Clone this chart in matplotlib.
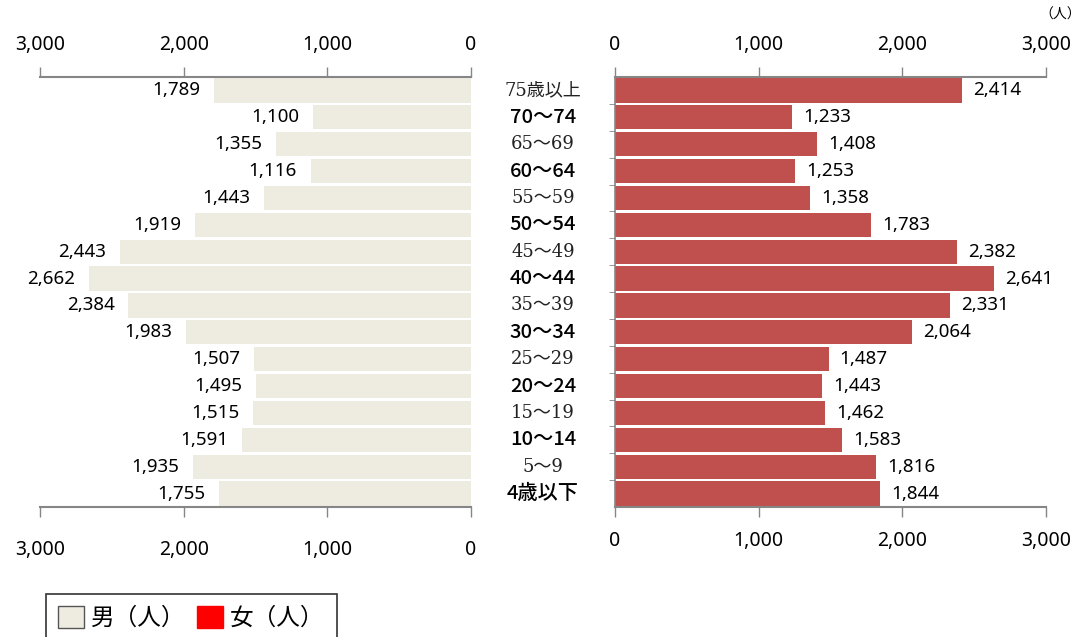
import matplotlib.pyplot as plt
from matplotlib.patches import Patch

plt.rcParams['font.family'] = ['Noto Sans', 'Noto Sans CJK JP', 'DejaVu Sans']

# 年齢階級（上から順）
ages = ['75歳以上', '70～74', '65〜69', '60～64', '55〜59', '50～54', '45〜49', '40～44',
        '35〜39', '30～34', '25〜29', '20～24', '15〜19', '10～14', '5〜9', '4歳以下']
male = [1789, 1100, 1355, 1116, 1443, 1919, 2443, 2662, 2384, 1983, 1507, 1495, 1515, 1591, 1935, 1755]
female = [2414, 1233, 1408, 1253, 1358, 1783, 2382, 2641, 2331, 2064, 1487, 1443, 1462, 1583, 1816, 1844]
ticks = [0, 1000, 2000, 3000]
tick_labels = ['0', '1,000', '2,000', '3,000']

male_color = '#EEECE1'
female_color = '#C0504D'
grey = '#868686'

fig = plt.figure(figsize=(10.88, 6.37), dpi=100)
ax_l = fig.add_axes([40 / 1088, 1 - 507 / 637, 431 / 1088, 430 / 637])
ax_r = fig.add_axes([615 / 1088, 1 - 507 / 637, 431 / 1088, 430 / 637])

y = list(range(len(ages)))
ax_l.barh(y, male, height=0.9, color=male_color)
bars_r = ax_r.barh(y, female, height=0.9, color=female_color)

# 男：棒の左側にラベル
for i, v in enumerate(male):
    ax_l.annotate(f'{v:,}', xy=(v, i), xytext=(-10, 0), textcoords='offset points',
                  ha='right', va='center', fontsize=13.5)
ax_r.bar_label(bars_r, labels=[f'{v:,}' for v in female], padding=8, fontsize=13.5)

for ax in (ax_l, ax_r):
    ax.set_xlim(0, 3000)
    ax.set_ylim(len(ages) - 0.5, -0.5)
    ax.set_xticks(ticks)
    ax.set_xticklabels(tick_labels)
    ax.set_yticks([])
    ax.tick_params(axis='x', top=True, labeltop=False, bottom=True, labelbottom=False,
                   direction='out', length=7, width=1, color=grey)
    for side in ('top', 'bottom'):
        ax.spines[side].set_color(grey)
        ax.spines[side].set_linewidth(1.5)
    ax.spines['left'].set_visible(False)
    ax.spines['right'].set_visible(False)

ax_l.invert_xaxis()

# 目盛ラベル（上下で位置が少し違う）
for ax, dy_bottom in ((ax_l, -24), (ax_r, -17)):
    tr = ax.get_xaxis_transform()
    for v, s in zip(ticks, tick_labels):
        ax.annotate(s, xy=(v, 1), xycoords=tr, xytext=(0, 16), textcoords='offset points',
                    ha='center', va='bottom', fontsize=14)
        ax.annotate(s, xy=(v, 0), xycoords=tr, xytext=(0, dy_bottom),
                    textcoords='offset points', ha='center', va='top', fontsize=14)

# 右グラフの縦軸線と区切り目盛
ax_r.spines['left'].set_visible(True)
ax_r.spines['left'].set_color(grey)
ax_r.spines['left'].set_linewidth(1.2)
ax_r.set_yticks([i + 0.5 for i in range(len(ages) - 1)], minor=True)
ax_r.tick_params(axis='y', which='minor', left=True, direction='out', length=4, color=grey)

# 年齢ラベル
trans = ax_r.get_yaxis_transform()
for i, a in enumerate(ages):
    if '〜' in a or a == '75歳以上':
        ax_r.text(-0.167, i, a, transform=trans, ha='center', va='center', fontsize=13,
                  family=['DejaVu Serif', 'Noto Sans CJK JP'], color='#222222')
    else:
        ax_r.text(-0.167, i, a, transform=trans, ha='center', va='center', fontsize=14.5,
                  family=['Noto Sans CJK JP', 'DejaVu Sans'], fontweight='medium', color='black')

fig.text(1060 / 1088, 1 - 15 / 637, '（人）', ha='center', va='center', fontsize=10,
         family=['Noto Sans CJK JP'])

handles = [Patch(facecolor=male_color, edgecolor='#555555', label='男（人）'),
           Patch(facecolor='#FF0000', edgecolor='#FF0000', label='女（人）')]
leg = fig.legend(handles=handles, loc='upper left', bbox_to_anchor=(46 / 1088, 1 - 594 / 637),
                 ncol=2, frameon=True, fancybox=False, edgecolor='black',
                 handlelength=1.1, handleheight=1.1, handletextpad=0.3, columnspacing=0.5,
                 borderpad=0.5, borderaxespad=0,
                 prop={'family': ['Noto Sans CJK JP'], 'size': 17})
leg.get_frame().set_linewidth(1.2)

plt.savefig('out.png', dpi=100)
